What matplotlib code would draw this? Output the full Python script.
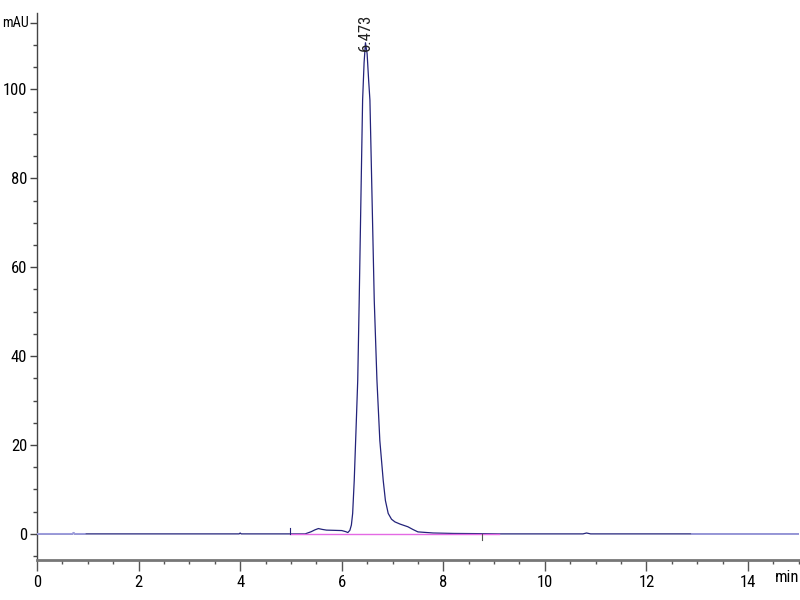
import numpy as np
import matplotlib
matplotlib.use("Agg")
import matplotlib.pyplot as plt
from matplotlib import font_manager
from matplotlib.ticker import MultipleLocator, FixedLocator

available = {f.name for f in font_manager.fontManager.ttflist}
narrow = None
for cand in ['Liberation Sans Narrow', 'DejaVu Sans Condensed', 'Roboto Condensed',
             'Open Sans Condensed', 'Noto Sans Condensed']:
    if cand in available:
        narrow = cand
        break
if narrow is None:
    plt.rcParams['font.family'] = ['Liberation Sans', 'DejaVu Sans']
    fsize = 11
else:
    plt.rcParams['font.family'] = [narrow, 'DejaVu Sans']
    fsize = 12

# retention time (min) and absorbance (mAU)
time = [0.0, 0.70, 0.72, 0.74, 0.94, 2.0, 3.98, 4.0, 4.02, 4.98, 5.28, 5.40,
        5.47, 5.54, 5.62, 5.70, 5.85, 6.00, 6.08, 6.12, 6.16, 6.19, 6.215,
        6.246, 6.28, 6.315, 6.344, 6.384, 6.411, 6.44, 6.467, 6.50, 6.53,
        6.555, 6.589, 6.64, 6.693, 6.75, 6.817, 6.86, 6.915, 6.98, 7.047,
        7.15, 7.303, 7.40, 7.50, 7.80, 8.20, 8.76, 9.10, 10.0, 10.75, 10.82,
        10.9, 12.0, 12.9, 15.0]
signal = [0.0, 0.0, 0.25, 0.0, 0.0, 0.0, 0.0, 0.2, 0.0, 0.0, 0.0, 0.5,
          0.9, 1.2, 1.0, 0.85, 0.8, 0.75, 0.5, 0.3, 0.8, 2.0, 4.6,
          12.0, 23.0, 34.6, 52.6, 79.7, 97.6, 106.0, 110.5, 108.0, 102.0,
          97.6, 79.7, 52.6, 34.6, 21.0, 12.0, 7.5, 4.6, 3.3, 2.7,
          2.2, 1.6, 1.0, 0.45, 0.2, 0.1, 0.05, 0.0, 0.0, 0.0, 0.2,
          0.0, 0.0, 0.0, 0.0]

peak_rt = 6.473
peak_label = "6.473"
baseline_start, baseline_end = 4.98, 9.10
marker_start, marker_end = 4.98, 8.76
light_ranges = [(0.0, 0.94), (12.9, 15.0)]

xmajor = [0, 2, 4, 6, 8, 10, 12, 14]
ymajor = [0, 20, 40, 60, 80, 100, 115]
ylabels = ['0', '20', '40', '60', '80', '100', '']
yunit_value = 115
yunit = 'mAU'
xunit = 'min'

navy = '#23237a'
lav = '#9c9cdc'
pink = '#e46ae4'

fig = plt.figure(figsize=(8, 6), dpi=100)
ax = fig.add_axes([0.04625, 0.0667, 0.9523, 0.9117])

t = np.array(time)
s = np.array(signal)
ax.plot(t, s, color=navy, lw=0.9, zorder=3)
for a, b in light_ranges:
    m = (t >= a) & (t <= b)
    ax.plot(t[m], s[m], color=lav, lw=1.3, zorder=4)

# integration baseline
ax.plot([baseline_start, baseline_end], [0, 0], color=pink, lw=1.0, zorder=5)
ax.plot([marker_start, marker_start], [0, 1.3], color=navy, lw=0.8, zorder=5)
ax.plot([marker_end, marker_end], [0, -1.3], color='#555555', lw=0.8, zorder=5)

ax.text(peak_rt, 108.6, peak_label, rotation=90, ha='center', va='bottom',
        fontsize=fsize, color='#222222', zorder=6)

ax.set_xlim(0, 15)
ax.set_ylim(-5.87, 117.2)

ax.xaxis.set_major_locator(FixedLocator(xmajor))
ax.xaxis.set_minor_locator(MultipleLocator(0.5))
ax.yaxis.set_major_locator(FixedLocator(ymajor))
ax.set_yticklabels(ylabels)
ax.yaxis.set_minor_locator(MultipleLocator(5))

for sp in ['top', 'right']:
    ax.spines[sp].set_visible(False)
ax.spines['left'].set_color('#444444')
ax.spines['left'].set_linewidth(1.0)
ax.spines['bottom'].set_color('#777777')
ax.spines['bottom'].set_linewidth(2.0)

ax.tick_params(axis='x', which='major', direction='out', length=8, width=1,
               color='#555555', labelsize=fsize, pad=3)
ax.tick_params(axis='x', which='minor', direction='out', length=3, width=1,
               color='#555555')
ax.tick_params(axis='y', which='major', direction='out', length=5, width=1,
               color='#444444', labelsize=fsize, pad=2)
ax.tick_params(axis='y', which='minor', direction='out', length=3, width=1,
               color='#444444')

# unit labels
ax.annotate(yunit, xy=(0, yunit_value), xycoords=('figure pixels', 'data'),
            xytext=(1.5, 0), textcoords='offset points', ha='left', va='center',
            fontsize=fsize * 0.85)
fig.text(799 / 800, 1 - 578 / 600, xunit, ha='right', va='center', fontsize=fsize)

fig.savefig('out.png', dpi=100)
